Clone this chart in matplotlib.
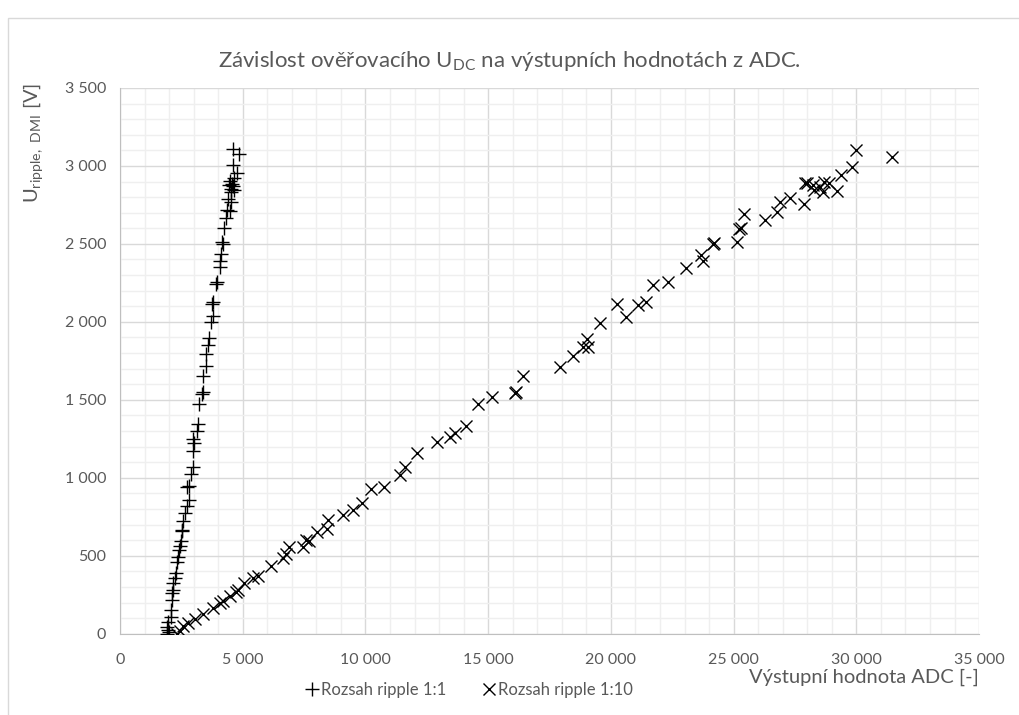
import matplotlib.pyplot as plt
import numpy as np
from matplotlib.patches import Rectangle
from matplotlib.ticker import FuncFormatter, MultipleLocator

plt.rcParams["font.family"] = ["Lato", "DejaVu Sans"]
plt.rcParams["mathtext.fontset"] = "custom"
plt.rcParams["mathtext.rm"] = "Lato"

# Rozsah ripple 1:1
adc_1 = [1920, 1950, 1930, 1960, 2000, 2058, 2058, 2099, 2127, 2168, 2168, 2221,
         2262, 2331, 2355, 2396, 2437, 2465, 2535, 2535, 2575, 2628, 2710, 2804,
         2738, 2804, 2873, 2983, 2983, 3008, 2983, 3117, 3172, 3212, 3349, 3390,
         3390, 3484, 3484, 3578, 3620, 3716, 3798, 3757, 3798, 3892, 3932, 4067,
         4067, 4095, 4205, 4164, 4231, 4299, 4475, 4340, 4503, 4393, 4503, 4638,
         4531, 4613, 4434, 4572, 4475, 4638, 4747, 4613, 4857, 4613]
u_1 = [0, 25, 45, 75, 10, 109, 153, 217, 260, 281, 324, 356,
       389, 463, 495, 539, 560, 592, 656, 667, 721, 775, 817, 856,
       942, 946, 1021, 1071, 1171, 1225, 1246, 1300, 1343, 1472, 1536, 1551,
       1654, 1718, 1793, 1851, 1894, 2001, 2040, 2115, 2126, 2244, 2255, 2351,
       2387, 2437, 2501, 2512, 2602, 2667, 2709, 2716, 2770, 2786, 2830, 2844,
       2855, 2873, 2876, 2887, 2902, 2920, 2952, 3005, 3074, 3108]

# Rozsah ripple 1:10
adc_10 = [2325, 2447, 2570, 2774, 3059, 3386, 3794, 4079, 4201, 4487, 4732, 4813,
          5058, 5425, 5629, 6159, 6649, 6771, 6894, 7465, 7587, 7709, 8036, 8444,
          8484, 9096, 9504, 9871, 10238, 10769, 11421, 11625, 12115, 12930, 13461,
          13665, 14114, 14603, 15174, 16112, 16153, 16438, 17907, 18437, 18845,
          19049, 19008, 19538, 20232, 20600, 21089, 21415, 21700, 22312, 23046,
          23658, 23740, 24148, 24189, 25127, 25208, 25290, 25412, 26269, 26759,
          26881, 27289, 27860, 27900, 27982, 28227, 28267, 28512, 28634, 28675,
          28879, 29206, 29369, 29818, 31449, 29981]
u_10 = [0, 19, 51, 71, 96, 128, 167, 199, 212, 244, 270, 283,
        328, 360, 372, 437, 488, 514, 559, 559, 604, 597, 655, 674,
        726, 764, 796, 841, 931, 944, 1015, 1066, 1162, 1230, 1259,
        1284, 1329, 1471, 1516, 1541, 1548, 1650, 1708, 1779, 1837,
        1837, 1888, 1991, 2113, 2029, 2106, 2126, 2235, 2254, 2344,
        2427, 2389, 2498, 2505, 2511, 2594, 2601, 2691, 2652, 2704,
        2768, 2794, 2755, 2890, 2890, 2877, 2845, 2864, 2832, 2896,
        2890, 2838, 2941, 2992, 3057, 3100]

label_1 = "Rozsah ripple 1:1"
label_10 = "Rozsah ripple 1:10"
grey = "#595959"

fig = plt.figure(figsize=(10.19, 7.15), dpi=100)
ax = fig.add_axes([0.1178, 0.1137, 0.843, 0.7633])

ax.plot(adc_1, u_1, linestyle="none", marker="+", markersize=10,
        markeredgewidth=1.0, color="black", label=label_1, zorder=3)
ax.plot(adc_10, u_10, linestyle="none", marker="x", markersize=8.5,
        markeredgewidth=1.0, color="black", label=label_10, zorder=3)

ax.set_xlim(0, 35000)
ax.set_ylim(0, 3500)
ax.xaxis.set_major_locator(MultipleLocator(5000))
ax.xaxis.set_minor_locator(MultipleLocator(1000))
ax.yaxis.set_major_locator(MultipleLocator(500))
ax.yaxis.set_minor_locator(MultipleLocator(100))
fmt = FuncFormatter(lambda v, p: f"{int(v):,}".replace(",", " "))
ax.xaxis.set_major_formatter(fmt)
ax.yaxis.set_major_formatter(fmt)

ax.grid(which="major", color="#d9d9d9", linewidth=1.0)
ax.grid(which="minor", color="#efefef", linewidth=1.0)
ax.set_axisbelow(True)
ax.tick_params(which="both", length=0, labelsize=11.5, labelcolor=grey)
ax.tick_params(axis="x", pad=14)
ax.tick_params(axis="y", pad=10)
for side in ["left", "bottom"]:
    ax.spines[side].set_color("#bfbfbf")
for side in ["top", "right"]:
    ax.spines[side].set_visible(False)

fig.text(0.5, 0.914, "Závislost ověřovacího U$_{\\mathregular{DC}}$ na výstupních hodnotách z ADC.",
         ha="center", va="center", fontsize=16, color=grey)
fig.text(0.033, 0.80, "U$_{\\mathregular{ripple,\\ DMI}}$ [V]", rotation=90,
         ha="center", va="center", fontsize=14.5, color=grey)
fig.text(0.9607, 0.052, "Výstupní hodnota ADC [-]", ha="right", va="center",
         fontsize=14.5, color=grey)

fig.legend(loc="center", bbox_to_anchor=(0.461, 0.035), ncol=2, frameon=False,
           fontsize=12, labelcolor=grey, handlelength=0.7, handletextpad=0.2,
           columnspacing=2.2)

fig.patches.append(Rectangle((0.008, -0.05), 1.1, 1.025, transform=fig.transFigure,
                             fill=False, edgecolor="#d9d9d9", linewidth=1.0))

fig.savefig("out.png", dpi=100)
